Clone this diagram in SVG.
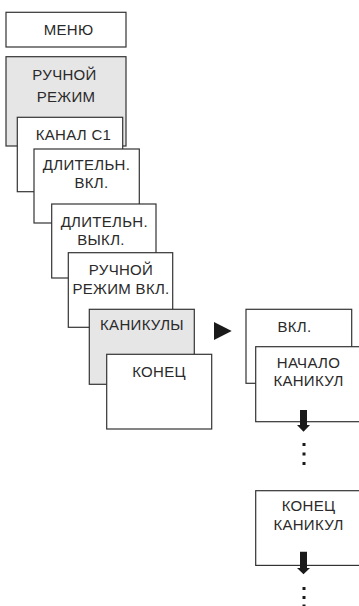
<svg xmlns="http://www.w3.org/2000/svg" width="359" height="606" viewBox="0 0 359 606">
<style>
.b{fill:#fff;stroke:#333;stroke-width:1.2}
.g{fill:#e6e6e7;stroke:#333;stroke-width:1.2}
text{font-family:"Liberation Sans","Noto Sans",sans-serif;font-size:15px;letter-spacing:0.3px;fill:#2a2a2a;text-anchor:middle}
.k{fill:#1a1a1a}
</style>
<rect width="359" height="606" fill="#fff"/>
<g id="menu"><rect class="b" x="6" y="12.3" width="120" height="34.7"/><text x="68.5" y="34.5">МЕНЮ</text></g>
<g id="manual"><rect class="g" x="6" y="56.7" width="120" height="89.3"/><text x="64.5" y="79.5">РУЧНОЙ</text><text x="66" y="102">РЕЖИМ</text></g>
<g id="channel"><rect class="b" x="17.3" y="117.3" width="105.4" height="74.4"/><text x="73.5" y="140.3">КАНАЛ С1</text></g>
<g id="permon"><rect class="b" x="34" y="149" width="105.3" height="74"/><text x="86.5" y="169.5">ДЛИТЕЛЬН.</text><text x="91.5" y="188.3">ВКЛ.</text></g>
<g id="permoff"><rect class="b" x="51.7" y="204" width="104.3" height="74"/><text x="104.3" y="226.8">ДЛИТЕЛЬН.</text><text x="101" y="245.3">ВЫКЛ.</text></g>
<g id="manualon"><rect class="b" x="68.3" y="252.7" width="104.4" height="74.6"/><text x="121" y="275.3">РУЧНОЙ</text><text x="121" y="293.5">РЕЖИМ ВКЛ.</text></g>
<g id="holidays"><rect class="g" x="89.3" y="309.3" width="105" height="75"/><text x="142" y="330.3">КАНИКУЛЫ</text></g>
<g id="end"><rect class="b" x="106.7" y="354.3" width="105" height="74.7"/><text x="159" y="377">КОНЕЦ</text></g>
<g id="on"><rect class="b" x="246" y="309.3" width="105.7" height="74"/><text x="294.5" y="332">ВКЛ.</text></g>
<g id="start"><rect class="b" x="255.7" y="346.7" width="105" height="75"/><text x="308.5" y="367.5">НАЧАЛО</text><text x="308.5" y="386.3">КАНИКУЛ</text></g>
<g id="endhol"><rect class="b" x="255.7" y="490.7" width="105" height="74.7"/><text x="308.5" y="511">КОНЕЦ</text><text x="308.5" y="530.3">КАНИКУЛ</text></g>
<g id="connectors" class="k">
<polygon points="214,322 231.7,331 214,340"/>
<path d="M300 410H307V425H310L303.5 431.7L297 425H300Z"/>
<rect x="302.5" y="443" width="3" height="3"/><rect x="302.5" y="452.5" width="3" height="3"/><rect x="302.5" y="462" width="3" height="3"/>
<path d="M300 551.7H307V568H310L303.5 574.3L297 568H300Z"/>
<rect x="302.5" y="587" width="3" height="3"/><rect x="302.5" y="596" width="3" height="3"/><rect x="302.5" y="604.5" width="3" height="3"/>
</g>
</svg>
